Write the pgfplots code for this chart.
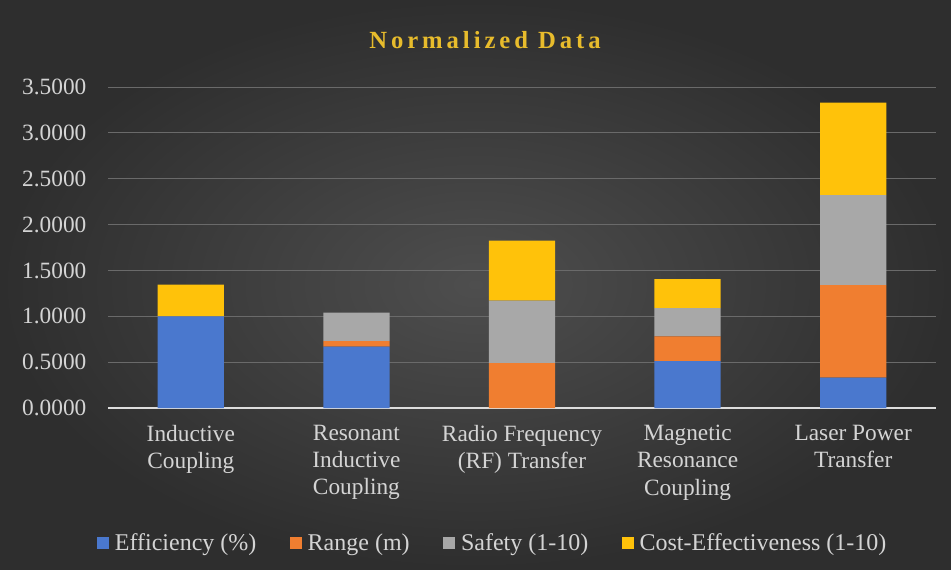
\documentclass[border=0pt]{standalone}
\usepackage{fontspec}
\setmainfont{Liberation Serif}
\usepackage{pgfplots}
\pgfplotsset{compat=1.18}
\definecolor{bgin}{HTML}{4E4E4E}
\definecolor{bgout}{HTML}{2E2E2E}
\definecolor{titlec}{HTML}{E8BC2C}
\definecolor{txtc}{HTML}{D4D4D4}
\definecolor{gridc}{HTML}{6A6A6A}
\definecolor{cblue}{HTML}{4A78CE}
\definecolor{corange}{HTML}{F07E30}
\definecolor{cgray}{HTML}{A8A8A8}
\definecolor{cyellow}{HTML}{FFC20A}
\begin{document}
\begin{tikzpicture}[x=0.75pt,y=0.75pt]
\useasboundingbox (0,0) rectangle (951,569);
\shade[inner color=bgin, outer color=bgout] (0,0) rectangle (951,569);
\node[text=titlec, font=\fontsize{18.5}{21}\selectfont\bfseries\addfontfeature{LetterSpace=16}] at (485,529) {Normalized Data};
\begin{axis}[
  at={(81pt,120.75pt)}, anchor=south west,
  scale only axis, width=621pt, height=240.75pt,
  ybar stacked, bar width=0.4,
  xmin=-0.5, xmax=4.5, ymin=0, ymax=3.5,
  ytick={0,0.5,...,3.5},
  xtick={0,1,2,3,4},
  xticklabels={{Inductive\\Coupling},{Resonant\\Inductive\\Coupling},{Radio Frequency\\(RF) Transfer},{Magnetic\\Resonance\\Coupling},{Laser Power\\Transfer}},
  xticklabel style={align=center, text=txtc, font=\fontsize{17.5}{20.5}\selectfont, anchor=north, inner sep=0pt, yshift=-12.5pt},
  yticklabel style={text=txtc, font=\fontsize{17.5}{20}\selectfont, anchor=east, inner sep=0pt, xshift=-16pt},
  /pgf/number format/.cd, fixed, fixed zerofill, precision=4, assume math mode=true,
  /pgfplots/.cd,
  major tick length=0pt,
  axis x line=bottom, axis y line=left,
  x axis line style={-, color=txtc!80, line width=1pt},
  y axis line style={draw=none},
  ymajorgrids, major grid style={color=gridc, line width=0.75pt},
  legend columns=4,
  legend style={at={(0.465,-0.42)}, anchor=center, draw=none, fill=none, text=txtc, font=\fontsize{18}{20}\selectfont,
    /tikz/every odd column/.append style={column sep=2.5pt},
    /tikz/every even column/.append style={column sep=23pt}},
  legend image code/.code={\fill[#1,draw=none] (0pt,-4.5pt) rectangle (9pt,4.5pt);},
]
\addplot[fill=cblue, draw=none] coordinates {(0,1.00) (1,0.67) (2,0) (3,0.51) (4,0.33)};
\addplot[fill=corange, draw=none] coordinates {(0,0) (1,0.06) (2,0.49) (3,0.27) (4,1.01)};
\addplot[fill=cgray, draw=none] coordinates {(0,0) (1,0.31) (2,0.68) (3,0.31) (4,0.98)};
\addplot[fill=cyellow, draw=none] coordinates {(0,0.345) (1,0) (2,0.655) (3,0.315) (4,1.01)};
\legend{Efficiency (\%), Range (m), Safety (1-10), Cost-Effectiveness (1-10)}
\end{axis}
\end{tikzpicture}
\end{document}
